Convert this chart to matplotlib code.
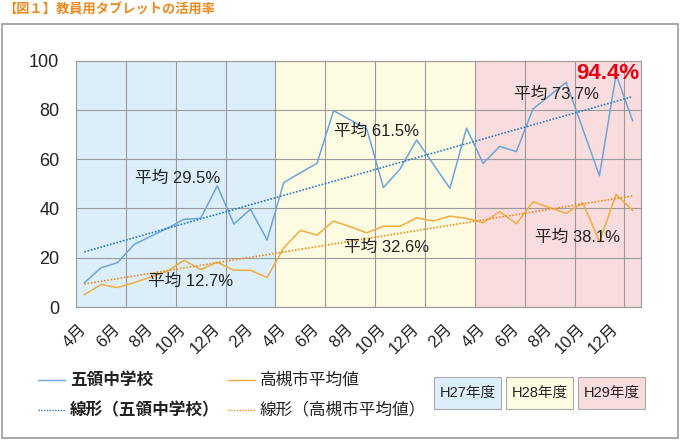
import numpy as np
import matplotlib
matplotlib.use("Agg")
import matplotlib.pyplot as plt
from matplotlib.patches import Rectangle

plt.rcParams['font.family'] = ['Liberation Sans', 'Noto Sans CJK JP', 'DejaVu Sans']

# 2015/4 - 2018/1, one value per month
months = ["4月", "5月", "6月", "7月", "8月", "9月", "10月", "11月", "12月", "1月", "2月", "3月"] * 2 \
    + ["4月", "5月", "6月", "7月", "8月", "9月", "10月", "11月", "12月", "1月"]
goryo = [9.8, 15.9, 18.0, 25.4, 28.7, 32.0, 35.6, 36.0, 49.2, 33.7, 39.7, 27.2,
         50.5, 54.5, 58.3, 79.7, 76.0, 72.2, 48.5, 56.0, 67.8, 58.0, 48.2, 72.6,
         58.3, 65.2, 63.1, 80.4, 85.8, 91.2, 72.2, 53.3, 94.4, 75.6]
takatsuki = [5.0, 9.1, 7.9, 9.9, 12.2, 14.5, 19.0, 15.2, 18.2, 14.9, 14.9, 12.0,
             24.0, 31.1, 29.2, 34.9, 32.6, 30.1, 32.8, 32.8, 36.2, 34.9, 36.9, 36.0,
             34.2, 38.7, 33.8, 42.7, 40.4, 38.0, 42.3, 26.5, 45.7, 39.2]
years = ["H27年度", "H28年度", "H29年度"]
year_colors = ["#dbeefa", "#fefbe3", "#f9dcdd"]
year_spans = [(0, 12), (12, 24), (24, 34)]
avg_labels = ["平均 29.5%", "平均 12.7%", "平均 61.5%", "平均 32.6%", "平均 73.7%", "平均 38.1%"]
avg_pos = [(5.6, 52.4), (6.4, 10.2), (17.6, 71.5), (18.2, 24.0), (28.4, 86.5), (29.7, 28.4)]

blue, blue_tr = "#6aa6dc", "#2a7dc8"
orange, orange_tr = "#f6ab3c", "#f0901e"

fig = plt.figure(figsize=(6.8, 4.4), dpi=100)
ax = fig.add_axes([76 / 680, 1 - 307 / 440, (641 - 76) / 680, (307 - 60.7) / 440])

x = np.arange(len(goryo))
for (a, b), c in zip(year_spans, year_colors):
    ax.axvspan(a - 0.5, b - 0.5, color=c, zorder=0, lw=0)

for k in range(3, len(x), 3):
    ax.axvline(k - 0.5, color="#9a9a9a", lw=0.8, zorder=1)
ax.set_yticks(range(0, 101, 20))
ax.yaxis.grid(True, color="#9a9a9a", lw=0.8, zorder=1)
ax.set_axisbelow(True)

ax.plot(x, goryo, color=blue, lw=1.1, zorder=3)
ax.plot(x, takatsuki, color=orange, lw=1.1, zorder=3)
for ys, c in [(goryo, blue_tr), (takatsuki, orange_tr)]:
    p = np.polyfit(x, ys, 1)
    ax.plot(x, np.polyval(p, x), color=c, lw=1.2, ls=(0, (1, 1)), zorder=4)

for t, (px, py) in zip(avg_labels, avg_pos):
    ax.text(px, py, t, fontsize=12, ha="center", va="center", color="#222222", zorder=5)
ax.text(31.5, 95.0, "94.4%", fontsize=16, fontweight="bold", color="#e60012",
        ha="center", va="center", zorder=5)

ax.set_xlim(-0.5, len(x) - 0.5)
ax.set_ylim(0, 100)
ax.set_xticks(x[::2])
ax.set_xticklabels(months[::2], rotation=45, ha="right", va="center",
                   rotation_mode="anchor", fontsize=12, color="#222222")
ax.tick_params(axis="x", length=0, pad=14)
ax.tick_params(axis="y", length=0, pad=12, labelsize=13, labelcolor="#222222")
for s in ax.spines.values():
    s.set_color("#9a9a9a")
    s.set_linewidth(0.8)

# outer frame and title
fig.patches.append(Rectangle((1.5 / 680, 1 - 438 / 440), 676.5 / 680, 413.5 / 440,
                             transform=fig.transFigure, fill=False, ec="#9a9a9a", lw=1.2))
fig.text(3 / 680, 1 - 10 / 440, "【図１】教員用タブレットの活用率", fontsize=9.5,
         color="#ee8a1d", fontweight="bold", ha="left", va="center",
         family=["Noto Sans CJK JP", "DejaVu Sans"])

# legend
leg = [("五領中学校", blue, "-", 38, 380, "bold"),
       ("線形（五領中学校）", blue_tr, (0, (1, 1)), 38, 410, "bold"),
       ("高槻市平均値", orange, "-", 228, 380, "normal"),
       ("線形（高槻市平均値）", orange_tr, (0, (1, 1)), 228, 410, "normal")]
for label, c, ls, lx, ly, w in leg:
    yy = 1 - ly / 440
    fig.add_artist(plt.Line2D([lx / 680, (lx + 27) / 680], [yy, yy], color=c, ls=ls, lw=1.0,
                              transform=fig.transFigure))
    fig.text((lx + 32) / 680, yy, label, fontsize=12, fontweight=w, color="#222222",
             ha="left", va="center", family=["Noto Sans CJK JP", "DejaVu Sans"])

for i, (yr, c) in enumerate(zip(years, year_colors)):
    bx = 434 + i * 72
    fig.patches.append(Rectangle((bx / 680, 1 - 409 / 440), 67 / 680, 32 / 440,
                                 transform=fig.transFigure, fc=c, ec="#aaaaaa", lw=0.8))
    fig.text((bx + 33.5) / 680, 1 - 393 / 440, yr, fontsize=10.5, color="#222222",
             ha="center", va="center")

fig.savefig("out.png", dpi=100)
